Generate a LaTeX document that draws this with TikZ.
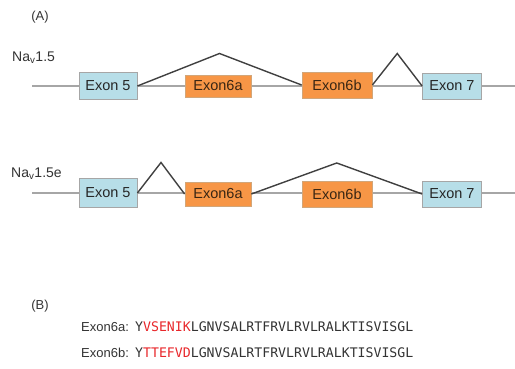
\documentclass[tikz,border=0pt]{standalone}
\usepackage{fontspec}
\setmainfont{Liberation Sans}
\newfontfamily\seqfont{DejaVu Sans Mono}
\usepackage{xcolor}
\usepackage{tikz}
\usetikzlibrary{positioning,calc}

\definecolor{exonblue}{HTML}{B7DEE8}
\definecolor{exonorange}{HTML}{F79646}
\definecolor{intron}{HTML}{A6A6A6}
\definecolor{splicegray}{HTML}{404040}
\definecolor{seqred}{HTML}{E8262A}

\begin{document}
\begin{tikzpicture}[
    x=1pt, y=1pt,
    const/.style={rectangle, draw=gray!70, line width=0.8pt, fill=exonblue, minimum width=58pt, minimum height=27pt, inner sep=0pt, font=\fontsize{14.5}{16}\selectfont, text=black!85},
    alt/.style={rectangle, draw=orange!50!gray!70, line width=0.8pt, fill=exonorange, minimum width=68pt, minimum height=24pt, inner sep=0pt, font=\fontsize{14.5}{16}\selectfont, text=brown!30!black},
    intronline/.style={draw=intron, line width=1.6pt},
    splice/.style={draw=splicegray, line width=1.4pt, line join=miter},
    isoform/.style={anchor=west, inner sep=0pt, font=\fontsize{14}{16}\selectfont, text=black!80},
    panel/.style={inner sep=0pt, font=\fontsize{13}{15}\selectfont, text=black!80},
]
\useasboundingbox (0,0) rectangle (515,369);

% Panel (A)
\node[panel] (labA) at (40,352) {(A)};

% Na_v1.5 (adult)
\node[isoform] (adult) at (12,311) {Na\textsubscript{v}1.5};
\coordinate (a-start) at (32,283);
\coordinate (a-end) at (515,283);
\draw[intronline] (a-start) -- (a-end);
\node[const] (ex5a) at (108,283) {Exon 5};
\node[alt, minimum width=66pt, minimum height=22pt] (ex6aa) at (218,283) {Exon6a};
\node[alt, minimum width=70pt, minimum height=26pt] (ex6ba) at (337,284) {Exon6b};
\node[const, minimum width=59pt, minimum height=26pt] (ex7a) at (452,283) {Exon 7};

% splicing (adult)
\draw[splice] (ex5a.east) -- ($(ex5a.east)!0.5!(ex6ba.west)+(0,32)$) -- (ex6ba.west);
\draw[splice] (ex6ba.east) -- ($(ex6ba.east)!0.5!(ex7a.west)+(0,32)$) -- (ex7a.west);

% Na_v1.5e (neonatal)
\node[isoform] (neonatal) at (11,195) {Na\textsubscript{v}1.5e};
\coordinate (b-start) at (32,176);
\coordinate (b-end) at (515,176);
\draw[intronline] (b-start) -- (b-end);
\node[const, minimum height=29pt] (ex5b) at (108,176) {Exon 5};
\node[alt, minimum width=66pt] (ex6ab) at (218,175) {Exon6a};
\node[alt, minimum width=70pt, minimum height=26pt] (ex6bb) at (337,175) {Exon6b};
\node[const, minimum width=59pt, minimum height=26pt] (ex7b) at (452,175) {Exon 7};

% splicing (neonatal)
\draw[splice] (ex5b.east) -- ($(ex5b.east)!0.5!(ex6ab.west)+(0,31)$) -- (ex6ab.west);
\draw[splice] (ex6ab.east) -- ($(ex6ab.east)!0.5!(ex7b.west)+(0,31)$) -- (ex7b.west);

% Panel (B)
\node[panel] (labB) at (40,63) {(B)};
\node[isoform, font=\fontsize{13}{15}\selectfont] (name6a) at (81,42) {Exon6a:};
\node[isoform, font=\fontsize{13.2}{15}\seqfont] (seq6a) at (135,42) {Y\textcolor{seqred}{VSENIK}LGNVSALRTFRVLRVLRALKTISVISGL};
\node[isoform, font=\fontsize{13}{15}\selectfont] (name6b) at (81,16) {Exon6b:};
\node[isoform, font=\fontsize{13.2}{15}\seqfont] (seq6b) at (135,16) {Y\textcolor{seqred}{TTEFVD}LGNVSALRTFRVLRVLRALKTISVISGL};

\end{tikzpicture}
\end{document}
